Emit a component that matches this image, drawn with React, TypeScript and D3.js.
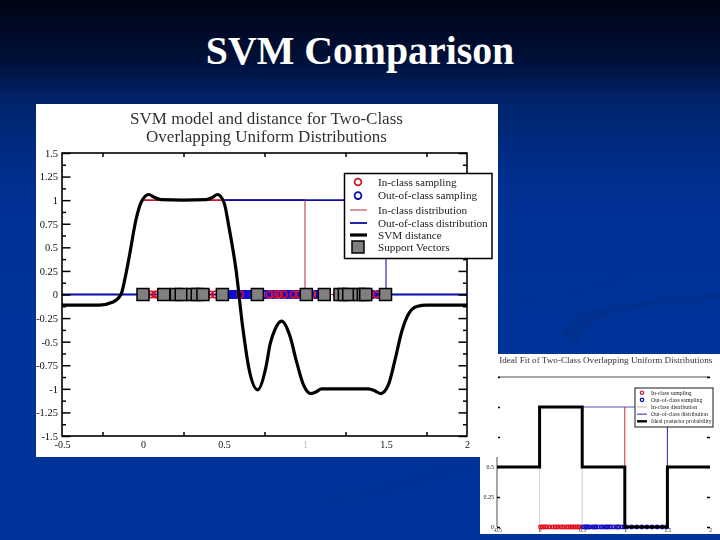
import React, { useRef, useEffect } from "react"
import * as d3 from "d3"

const svmX = [-0.5, -0.27, -0.185, -0.136, -0.11, -0.085, -0.043, -0.012, 0.035, 0.07, 0.11, 0.25, 0.39, 0.43, 0.46, 0.5, 0.53, 0.574, 0.615, 0.655, 0.708, 0.76, 0.784, 0.815, 0.856, 0.907, 0.949, 0.99, 1.037, 1.07, 1.103, 1.25, 1.39, 1.43, 1.467, 1.515, 1.556, 1.596, 1.638, 1.69, 1.75, 2]
const svmY = [-0.113, -0.113, -0.08, 0, 0.18, 0.4, 0.795, 0.975, 1.06, 1.03, 1.005, 1, 1.005, 1.03, 1.06, 0.975, 0.72, 0.265, -0.34, -0.795, -1.01, -0.76, -0.53, -0.37, -0.283, -0.44, -0.72, -0.955, -1.05, -1.03, -1.0, -1, -1.0, -1.02, -1.05, -0.955, -0.69, -0.4, -0.21, -0.127, -0.113, -0.113]

const inClass = [0.02, 0.05, 0.075, 0.09, 0.12, 0.16, 0.2, 0.24, 0.28, 0.31, 0.35, 0.39, 0.415, 0.445, 0.48, 0.6, 0.78, 0.815, 0.84, 0.87, 0.93, 0.96, 1.045, 1.405, 1.44]
const outClass = [0.51, 0.525, 0.535, 0.545, 0.555, 0.565, 0.575, 0.585, 0.595, 0.605, 0.615, 0.625, 0.635, 0.645, 0.655, 0.665, 0.675, 0.685, 0.695, 0.72, 0.75, 0.758, 0.775, 0.798, 0.808, 0.825, 0.85, 0.86, 0.88, 0.892, 0.91, 0.92, 0.94, 0.95, 0.97, 0.985, 1.055, 1.07, 1.1, 1.2, 1.3, 1.395, 1.42, 1.45, 1.47]
const supportVectors = [0.0, 0.128, 0.206, 0.236, 0.307, 0.335, 0.37, 0.49, 0.706, 1.008, 1.119, 1.216, 1.243, 1.27, 1.335, 1.36, 1.375, 1.497]

const legendLabels = ["In-class sampling", "Out-of-class sampling", "In-class distribution", "Out-of-class distribution", "SVM distance", "Support Vectors"]

const xLabels = [-0.5, 0, 0.5, 1, 1.5, 2]
const xMinor = [-0.25, 0.25, 0.75, 1.25, 1.75]
const yMajor = [-1.5, -1.25, -1, -0.75, -0.5, -0.25, 0, 0.25, 0.5, 0.75, 1, 1.25, 1.5]
const yMinor = [-1.375, -1.125, -0.875, -0.625, -0.375, -0.125, 0.125, 0.375, 0.625, 0.875, 1.125, 1.375]

const idealX = [-0.5, 0, 0, 0.5, 0.5, 1, 1, 1.5, 1.5, 2]
const idealY = [0.5, 0.5, 1, 1, 0.5, 0.5, 0, 0, 0.5, 0.5]
const smallIn = [0.01, 0.03, 0.05, 0.07, 0.09, 0.12, 0.15, 0.18, 0.2, 0.22, 0.25, 0.27, 0.29, 0.32, 0.34, 0.36, 0.38, 0.4, 0.42, 0.44, 0.46, 0.48, 0.55, 0.66, 0.8, 0.92]
const smallOut = [0.51, 0.53, 0.55, 0.57, 0.59, 0.62, 0.64, 0.66, 0.69, 0.72, 0.74, 0.77, 0.79, 0.82, 0.84, 0.87, 0.9, 0.93, 0.96, 0.99, 1.02, 1.08, 1.14, 1.2, 1.26, 1.32, 1.38, 1.44, 1.49]
const smallLegend = ["In-class sampling", "Out-of-class sampling", "In-class distribution", "Out-of-class distribution", "Ideal posterior probability"]
const smallYLabels = [0, 0.25, 0.5, 0.75, 1, 1.25]
const smallXLabels = [-0.5, 0, 0.5, 1, 1.5, 2]

const RED = "#c8182a"
const BLUE = "#0a0aa8"
const SERIF = "'Liberation Serif', serif"

function styleAxis(g: any, size: number, color = "#111") {
  g.select(".domain").remove()
  g.selectAll("text").attr("font-family", SERIF).attr("font-size", size).attr("fill", color)
  g.selectAll(".tick line").attr("stroke", "#000").attr("stroke-width", 1.5)
  return g
}

export default function App() {
  const svgRef = useRef<SVGSVGElement>(null)

  useEffect(() => {
    const svg = d3.select(svgRef.current)
    svg.selectAll("*").remove()

    const defs = svg.append("defs")
    const grad = defs.append("linearGradient").attr("id", "bg").attr("x1", 0).attr("y1", 0).attr("x2", 0).attr("y2", 1)
    grad.append("stop").attr("offset", "0%").attr("stop-color", "#000314")
    grad.append("stop").attr("offset", "11%").attr("stop-color", "#001038")
    grad.append("stop").attr("offset", "19%").attr("stop-color", "#00246c")
    grad.append("stop").attr("offset", "35%").attr("stop-color", "#003092")
    grad.append("stop").attr("offset", "60%").attr("stop-color", "#003399")
    defs.append("filter").attr("id", "soft").append("feGaussianBlur").attr("stdDeviation", 0.45)

    svg.append("rect").attr("width", 720).attr("height", 540).attr("fill", "url(#bg)")

    // faint swooshes in the slide background
    svg.append("path").attr("d", "M562 332 Q566 316 600 308 Q660 296 720 292 L720 300 Q650 304 610 314 Q580 322 578 345 Q566 342 562 332 Z").attr("fill", "#003090")
    svg.append("path").attr("d", "M498 300 Q560 296 610 278 Q640 266 644 240 Q650 270 612 286 Q560 302 498 305 Z").attr("fill", "#003194")
    svg.append("path").attr("d", "M320 500 Q400 480 450 458 L498 458 Q440 490 320 505 Z").attr("fill", "#003194")

    svg.append("text").attr("x", 360).attr("y", 63.5).attr("text-anchor", "middle")
      .attr("font-family", SERIF).attr("font-weight", "bold").attr("font-size", 39.8).attr("fill", "#fff")
      .text("SVM Comparison")

    // small chart, sits under the big panel
    const small = svg.append("g").attr("filter", "url(#soft)")
    small.append("rect").attr("x", 480).attr("y", 354).attr("width", 240).attr("height", 180).attr("fill", "#fff")
    small.append("text").attr("x", 605.7).attr("y", 362.5).attr("text-anchor", "middle")
      .attr("font-family", SERIF).attr("font-size", 9.15).attr("fill", "#333")
      .text("Ideal Fit of Two-Class Overlapping Uniform Distributions")

    const sx = d3.scaleLinear().domain([-0.5, 2]).range([497, 710])
    const sy = d3.scaleLinear().domain([0, 1.25]).range([527, 377])

    small.append("line").attr("x1", 497).attr("x2", 710).attr("y1", 377).attr("y2", 377).attr("stroke", "#222").attr("stroke-width", 0.8)
    small.append("line").attr("x1", 497).attr("x2", 497).attr("y1", 377).attr("y2", 527).attr("stroke", "#222").attr("stroke-width", 0.8)

    styleAxis(small.append("g").attr("transform", "translate(497,0)")
      .call(d3.axisLeft(sy).tickValues(smallYLabels).tickSize(-3).tickPadding(3).tickFormat((d) => String(d))), 6)
    styleAxis(small.append("g").attr("transform", "translate(710,0)")
      .call(d3.axisRight(sy).tickValues(smallYLabels).tickSize(-3).tickFormat(() => "")), 6)
    styleAxis(small.append("g").attr("transform", "translate(0,527)")
      .call(d3.axisBottom(sx).tickValues(smallXLabels).tickSize(0).tickPadding(1.5).tickFormat((d) => String(d))), 5.5)

    const sLine = d3.line<[number, number]>().x((d) => sx(d[0])).y((d) => sy(d[1]))
    const thin = (pts: [number, number][], c: string, w: number) =>
      small.append("path").attr("d", sLine(pts)).attr("fill", "none").attr("stroke", c).attr("stroke-width", w)

    thin([[0, 0], [0, 1]], "#e4c8cc", 1)
    thin([[0.5, 0], [0.5, 0.5]], "#c8c8e0", 1)
    thin([[0.5, 1], [1.5, 1]], "#2a2aa0", 0.8)
    thin([[1, 0], [1, 1]], RED, 0.9)
    thin([[1.5, 0], [1.5, 1]], BLUE, 0.9)

    small.selectAll(".s-in").data(smallIn).join("circle").attr("class", "s-in")
      .attr("cx", (d) => sx(d)).attr("cy", sy(0)).attr("r", 1.8).attr("fill", "none").attr("stroke", "#e01020").attr("stroke-width", 1.3)
    small.selectAll(".s-out").data(smallOut).join("circle").attr("class", "s-out")
      .attr("cx", (d) => sx(d)).attr("cy", sy(0)).attr("r", 1.8).attr("fill", "none").attr("stroke", "#1010c8").attr("stroke-width", 1.3)

    small.append("path").datum(idealX.map((x, i) => [x, idealY[i]] as [number, number]))
      .attr("d", sLine).attr("fill", "none").attr("stroke", "#000").attr("stroke-width", 3)

    const sLegend = small.append("g")
    sLegend.append("rect").attr("x", 635).attr("y", 388).attr("width", 78).attr("height", 39).attr("fill", "#fff").attr("stroke", "#000").attr("stroke-width", 0.9)
    const sRow = d3.scalePoint<string>().domain(smallLegend).range([392.7, 421.3])
    smallLegend.forEach((t, i) => {
      const y = sRow(t) as number
      sLegend.append("text").attr("x", 651).attr("y", y + 1.8).attr("font-family", SERIF).attr("font-size", 5.8).attr("fill", "#222").text(t)
      if (i < 2) {
        sLegend.append("circle").attr("cx", 642).attr("cy", y).attr("r", 1.7).attr("fill", "none").attr("stroke", i === 0 ? RED : BLUE).attr("stroke-width", 1.2)
      } else {
        sLegend.append("line").attr("x1", 637).attr("x2", 647).attr("y1", y).attr("y2", y)
          .attr("stroke", i === 2 ? "#d8a0a0" : i === 3 ? BLUE : "#000").attr("stroke-width", i === 4 ? 2.4 : 0.9)
      }
    })

    // big panel
    svg.append("rect").attr("x", 36).attr("y", 104).attr("width", 462).attr("height", 353).attr("fill", "#fff")

    const big = svg.append("g").attr("filter", "url(#soft)")
    big.append("text").attr("x", 266.5).attr("y", 124).attr("text-anchor", "middle")
      .attr("font-family", SERIF).attr("font-size", 17).attr("fill", "#333").text("SVM model and distance for Two-Class")
    big.append("text").attr("x", 266.5).attr("y", 141.5).attr("text-anchor", "middle")
      .attr("font-family", SERIF).attr("font-size", 17).attr("fill", "#333").text("Overlapping Uniform Distributions")

    const x = d3.scaleLinear().domain([-0.5, 2]).range([62, 467])
    const y = d3.scaleLinear().domain([-1.5, 1.5]).range([436, 153])
    const line = d3.line<[number, number]>().x((d) => x(d[0])).y((d) => y(d[1]))

    const dist = (pts: [number, number][], c: string, w: number) =>
      big.append("path").attr("d", line(pts)).attr("fill", "none").attr("stroke", c).attr("stroke-width", w)

    dist([[-0.5, 0], [0.5, 0]], BLUE, 1.8)
    dist([[1.5, 0], [2, 0]], BLUE, 1.8)
    dist([[1.5, 0], [1.5, 1]], BLUE, 1)
    dist([[0, 1], [1, 1]], RED, 1.8)
    dist([[0.5, 1], [1.5, 1]], BLUE, 1.8)
    dist([[1, 0], [1, 1]], "#a82a3a", 1)
    dist([[1, 0], [1.5, 0]], RED, 1.2)

    // blue samples go down first, the reds show through as pink spots
    big.selectAll(".out").data(outClass).join("circle").attr("class", "out")
      .attr("cx", (d) => x(d)).attr("cy", y(0)).attr("r", 3.4).attr("fill", "none").attr("stroke", "#1010d8").attr("stroke-width", 2)
    big.selectAll(".in").data(inClass).join("circle").attr("class", "in")
      .attr("cx", (d) => x(d)).attr("cy", y(0)).attr("r", 3.2).attr("fill", "none").attr("stroke", "#e01020").attr("stroke-width", 1.5)

    const size = 12
    big.selectAll(".sv").data(supportVectors).join("rect").attr("class", "sv")
      .attr("x", (d) => x(d) - size / 2).attr("y", y(0) - size / 2).attr("width", size).attr("height", size)
      .attr("fill", "#808080").attr("stroke", "#000").attr("stroke-width", 1.5)

    const curve = d3.line<number>().x((d) => x(d)).y((_, i) => y(svmY[i])).curve(d3.curveMonotoneX)
    big.append("path").attr("d", curve(svmX)).attr("fill", "none").attr("stroke", "#000").attr("stroke-width", 3.2)

    big.append("rect").attr("x", 62).attr("y", 153).attr("width", 405).attr("height", 283).attr("fill", "none").attr("stroke", "#000").attr("stroke-width", 1.6)

    const fmt = (d: any) => String(d)
    styleAxis(big.append("g").attr("transform", "translate(62,0)")
      .call(d3.axisLeft(y).tickValues(yMajor).tickSize(-8.5).tickPadding(4).tickFormat(fmt)), 10.5)
    styleAxis(big.append("g").attr("transform", "translate(62,0)")
      .call(d3.axisLeft(y).tickValues(yMinor).tickSize(-4).tickFormat(() => "")), 10.5)
    styleAxis(big.append("g").attr("transform", "translate(467,0)")
      .call(d3.axisRight(y).tickValues(yMajor).tickSize(-8.5).tickFormat(() => "")), 10.5)
    styleAxis(big.append("g").attr("transform", "translate(467,0)")
      .call(d3.axisRight(y).tickValues(yMinor).tickSize(-4).tickFormat(() => "")), 10.5)
    const xAxis = styleAxis(big.append("g").attr("transform", "translate(0,436)")
      .call(d3.axisBottom(x).tickValues(xLabels).tickSize(0).tickPadding(5).tickFormat(fmt)), 10)
    // the "1" label is washed out in the scan
    xAxis.selectAll("text").filter((d: any) => d === 1).attr("fill", "#bbb")
    styleAxis(big.append("g").attr("transform", "translate(0,436)")
      .call(d3.axisBottom(x).tickValues(xMinor).tickSize(-4).tickFormat(() => "")), 10)
    styleAxis(big.append("g").attr("transform", "translate(0,153)")
      .call(d3.axisTop(x).tickValues(xMinor).tickSize(-4).tickFormat(() => "")), 10)

    const legend = big.append("g")
    legend.append("rect").attr("x", 344.5).attr("y", 173.5).attr("width", 147.5).attr("height", 85).attr("fill", "#fff").attr("stroke", "#000").attr("stroke-width", 1.5)
    const rowY = d3.scaleOrdinal<string, number>().domain(legendLabels).range([182, 195.6, 210, 223, 235, 247])
    legendLabels.forEach((t, i) => {
      const ry = rowY(t)
      legend.append("text").attr("x", 378).attr("y", ry + 3.5).attr("font-family", SERIF).attr("font-size", 11.2).attr("fill", "#222").text(t)
      if (i < 2) {
        legend.append("circle").attr("cx", 358).attr("cy", ry).attr("r", 3.4).attr("fill", "none").attr("stroke", i === 0 ? RED : BLUE).attr("stroke-width", 1.8)
      } else if (i === 5) {
        legend.append("rect").attr("x", 352).attr("y", ry - 6).attr("width", 12).attr("height", 12).attr("fill", "#808080").attr("stroke", "#000").attr("stroke-width", 1.5)
      } else {
        legend.append("line").attr("x1", 350).attr("x2", 367).attr("y1", ry).attr("y2", ry)
          .attr("stroke", i === 2 ? "#a82a3a" : i === 3 ? BLUE : "#000").attr("stroke-width", i === 2 ? 1 : i === 3 ? 1.8 : 3.2)
      }
    })
  }, [])

  return <svg ref={svgRef} width={720} height={540} style={{ position: "absolute", left: 0, top: 0 }} />
}
